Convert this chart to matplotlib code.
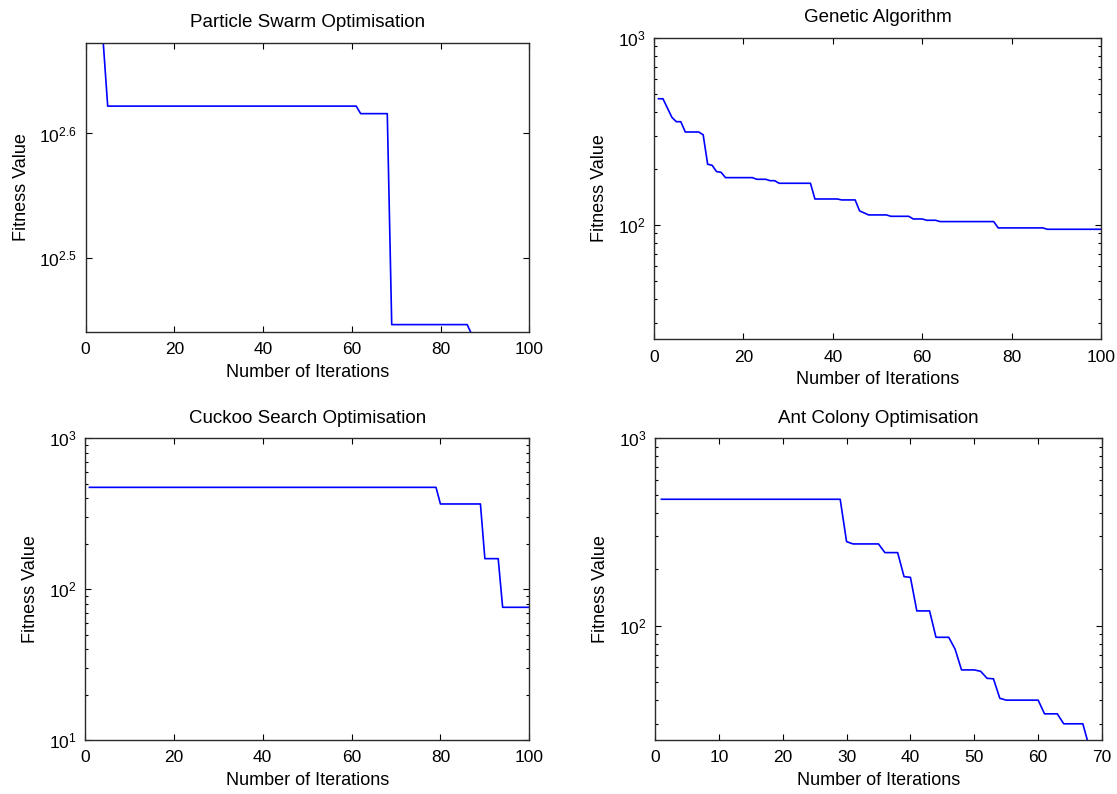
import matplotlib
matplotlib.use("Agg")
import matplotlib.pyplot as plt
from matplotlib.ticker import FixedLocator, FixedFormatter, NullLocator, LogLocator, NullFormatter, LogFormatterSciNotation

plt.rcParams['font.family'] = ['Liberation Sans', 'DejaVu Sans']
plt.rcParams['mathtext.fontset'] = 'custom'
plt.rcParams['mathtext.rm'] = 'Liberation Sans'
plt.rcParams['mathtext.it'] = 'Liberation Sans'

# ---------------- data ----------------
titles = ["Particle Swarm Optimisation", "Genetic Algorithm",
          "Cuckoo Search Optimisation", "Ant Colony Optimisation"]
xlabel_text = "Number of Iterations"
ylabel_text = "Fitness Value"

pso_iter = list(range(1, 101))
pso_fitness = ([471.0] * 4 + [418.8] * 57 + [413.0] * 7 + [279.4] * 18 + [274.5] * 14)

ga_iter = list(range(1, 101))
ga_fitness = ([472.0] * 2 + [421.0, 375.6, 356.0, 356.0] + [313.6] * 4 + [303.0, 211.0, 208.2, 192.7, 191.0]
              + [178.9] * 7 + [175.3] * 3 + [172.3] * 2 + [166.9] * 8 + [137.6] * 6 + [136.0] * 4
              + [118.8, 116.0] + [113.1] * 5 + [111.2] * 5 + [107.6] * 3 + [105.9] * 3
              + [104.2] * 13 + [96.4] * 11 + [94.8] * 13)

cso_iter = list(range(1, 101))
cso_fitness = ([473.0] * 79 + [367.0] * 10 + [159.3] * 4 + [75.8] * 7)

aco_iter = list(range(1, 69))
aco_fitness = ([472.6] * 29 + [280.8] + [272.9] * 5 + [245.3] * 3 + [182.6, 181.0] + [119.8] * 3
               + [86.6] * 3 + [74.8] + [58.0] * 3 + [57.0, 52.3, 52.0, 40.9] + [40.0] * 6
               + [33.8] * 3 + [29.9] * 4 + [22.5])

pso_ylim = (275.6, 471.0)
pso_xticks = [0, 20, 40, 60, 80, 100]
aco_xticks = [0, 10, 20, 30, 40, 50, 60, 70]
pso_yticks_exp = [2.5, 2.6]
pso_yticklabels = [r'$\mathdefault{10^{2.5}}$', r'$\mathdefault{10^{2.6}}$']

# ---------------- figure ----------------
W, H = 1117, 794
fig = plt.figure(figsize=(W / 100, H / 100), dpi=100)
fig.patch.set_facecolor('white')

def rect(l, r, t, b):
    return [l / W, 1 - b / H, (r - l) / W, (b - t) / H]

ax1 = fig.add_axes(rect(85.5, 529.3, 42.7, 332.0))
ax2 = fig.add_axes(rect(654.0, 1101.0, 37.7, 339.3))
ax3 = fig.add_axes(rect(85.0, 529.3, 438.3, 740.0))
ax4 = fig.add_axes(rect(655.0, 1102.0, 438.3, 740.0))

series = [(ax1, pso_iter, pso_fitness), (ax2, ga_iter, ga_fitness),
          (ax3, cso_iter, cso_fitness), (ax4, aco_iter, aco_fitness)]

for (ax, x, y), title in zip(series, titles):
    ax.plot(x, y, color='#0000ff', lw=1.2)
    ax.set_yscale('log')
    ax.set_title(title, fontsize=13.5, pad=11)
    ax.set_xlabel(xlabel_text, fontsize=13, labelpad=4.5)
    ax.set_ylabel(ylabel_text, fontsize=13, labelpad=7)
    ax.tick_params(which='both', direction='in', top=True, right=True,
                   labelsize=12.5, colors='black')
    ax.tick_params(which='major', length=4, width=0.8)
    ax.tick_params(which='minor', length=2, width=0.8)
    ax.tick_params(axis='x', pad=7.5)
    ax.tick_params(axis='y', pad=6)
    ax.xaxis.set_minor_locator(NullLocator())
    for s in ax.spines.values():
        s.set_color('#2a2a2a')
        s.set_linewidth(1.0)
        s.set_zorder(3)

# PSO
ax1.set_xlim(0, 100)
ax1.set_xticks(pso_xticks)
ax1.set_ylim(*pso_ylim)
ax1.yaxis.set_major_locator(FixedLocator([10 ** e for e in pso_yticks_exp]))
ax1.yaxis.set_major_formatter(FixedFormatter(pso_yticklabels))
ax1.yaxis.set_minor_locator(NullLocator())

# GA
ax2.set_xlim(0, 100)
ax2.set_xticks(pso_xticks)
ax2.set_ylim(24.5, 1000)

# CSO
ax3.set_xlim(0, 100)
ax3.set_xticks(pso_xticks)
ax3.set_ylim(10, 1000)

# ACO
ax4.set_xlim(0, 70)
ax4.set_xticks(aco_xticks)
ax4.set_ylim(24.5, 1000)

for ax in (ax2, ax3, ax4):
    ax.yaxis.set_major_locator(LogLocator(base=10))
    ax.yaxis.set_major_formatter(LogFormatterSciNotation())
    ax.yaxis.set_minor_locator(LogLocator(base=10, subs=range(2, 10)))
    ax.yaxis.set_minor_formatter(NullFormatter())

fig.savefig("out.png", dpi=100)
